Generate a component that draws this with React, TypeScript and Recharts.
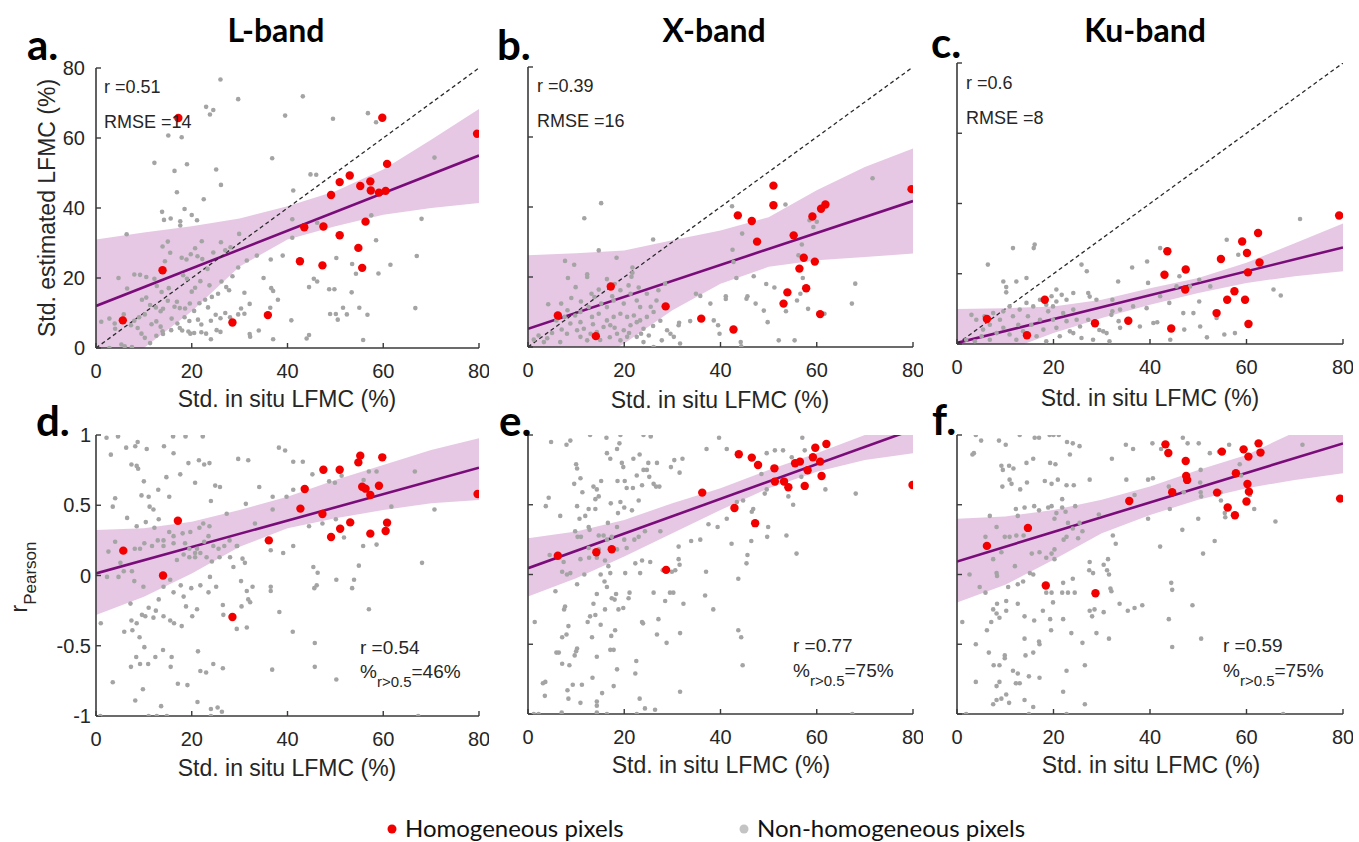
import React from 'react';
import { ComposedChart, Scatter, Line, Area, XAxis, YAxis } from 'recharts';

// shared axes
const xTicks = [0, 20, 40, 60, 80];
const topYTicks = [0, 20, 40, 60, 80];
const bottomYTicks = [-1, -0.5, 0, 0.5, 1];
const bandX = [0, 10, 20, 30, 40, 50, 60, 70, 80];
const diagLine = [[0, 0], [80, 80]];

// a. L-band estimated LFMC
const redA = [[5.6,7.9],[13.9,22.2],[17.2,65.7],[28.5,7.3],[35.9,9.4],[42.6,24.8],[43.5,34.5],[47.3,23.6],[47.5,34.7],[49.1,43.7],[50.9,32.2],[50.9,47.4],[53,49.3],[54.8,28.6],[55.2,46.3],[55.6,22.9],[56.3,36.1],[57.3,47.6],[57.4,45],[59.1,44.4],[59.8,65.8],[60.5,44.9],[60.8,52.6],[79.6,61.2]];
const grayA = [[26,76.7],[29.7,71.1],[23,68.9],[23.8,66.7],[24.5,68],[43.2,71.9],[39.5,66.4],[49.5,65.5],[56.8,67.1],[58.5,64.5],[15.1,60.7],[17.9,60.2],[12.2,52.9],[19,52.5],[16.4,50.6],[16.9,44.5],[22.5,42.5],[26.1,46.6],[25.1,51],[18.5,39.7],[20,38],[21.1,36.5],[13.8,38.9],[14.2,36.6],[15.6,37],[17.6,36.2],[17.6,35],[36.8,54.2],[41.2,45],[44.8,49.6],[46,49.5],[41,36.8],[46.2,35.8],[41,31.5],[70.7,54.4],[68,36.9],[57.5,37.9],[58.5,30.8],[59,21.3],[61.5,23.8],[53.5,24],[54.3,21.2],[50.2,25.7],[48.7,16.8],[49.8,16.8],[45.5,19.8],[46.2,19],[44.5,17.4],[53.4,15.9],[55,11.5],[56.7,9.5],[51.6,11.5],[52.4,9.6],[50.1,9.7],[48.9,9.7],[50.5,8.1],[55.8,2.3],[66.7,11.4],[67,26.3],[44.5,3.7],[44,2.7],[40.8,7.9],[37,2.5],[36.4,11.5],[36.6,17.1],[37,16.3],[38,13.8],[35,20],[39,26.4],[36.5,25.3],[33.6,26.4],[31.5,25],[29.9,32.6],[28.1,28.8],[29.7,23],[31,15.8],[32.1,12.6],[31,9.8],[32.1,4],[32.2,3.2],[34,5],[27.2,17.4],[27,10],[25.2,5.1],[24,2.5],[26,4.6],[23,4.1],[22,4.5],[19.7,4.1],[19.3,4.7],[20.5,4.3],[18,5],[17.5,5.7],[15.7,5.1],[14,4],[13.9,4.8],[12.6,3.5],[11.3,1.4],[7.5,0.3],[6,0.5],[2.8,0],[1.1,7.5],[2.8,8.4],[3.9,7],[4,5.5],[5.3,1],[5.8,9.6],[6.5,17],[4.7,20],[6.4,32.5],[8,21],[9.2,20.9],[10.5,20.3],[9.6,13.8],[10.5,14.4],[11.3,12.3],[12.5,11.6],[13.5,10.5],[14,11.2],[15,13.5],[16.4,11.8],[16.9,13.2],[17.5,11.4],[18.6,11.3],[19.6,12.7],[20.5,10.6],[21.6,12.8],[22.8,13.8],[23.4,11.6],[24.2,14.6],[23.7,17.9],[21.8,19.1],[20.7,17.2],[20,16.1],[19,19.8],[18.2,20.8],[17.9,25.8],[18.9,25.3],[19.8,26.8],[21.2,26.2],[22.2,25.4],[23.3,22.6],[24.5,27.3],[26.1,30.2],[27,27.9],[22.1,30.5],[20.7,28.5],[15,30.4],[15.5,27.2],[14.4,24.8],[13.9,29],[12.2,19.8],[12.7,17.7],[13.7,16],[15.2,17.1],[10.2,9.6],[9,8.8],[8,7.8],[7.3,6.5],[8.7,5.7],[9.5,4.1],[10.2,2.9],[11.6,6.8],[12.6,7.6],[13.5,6.1],[15.8,8.4],[17,7],[18.5,8.8],[19.5,7.7],[21.3,8.1],[22,6.7],[24,7.8],[25,9.5],[26,8.5],[28,8.8],[29.7,9.6],[30.3,11.3],[27.8,16.5],[25.5,15.5],[26.2,19],[28.5,20.5]];
const fitA = [12, 55];
const lowA = [-12, 0, 10.5, 23.3, 31, 34.8, 38.1, 40, 41.4];
const highA = [31, 33, 34.8, 37, 40.5, 44.8, 51, 59.5, 68.3];

// b. X-band estimated LFMC
const redB = [[6.2,9],[14.1,3.1],[17.2,17.3],[28.6,11.6],[36,8.1],[42.7,5],[43.6,37.6],[46.5,36],[47.6,30.1],[51,46.1],[51,40.5],[53.1,12.4],[53.9,15.6],[55.2,31.9],[56.4,22.4],[57.3,25.5],[57.8,16.8],[59.1,37.3],[59.6,24.4],[60.7,9.4],[60.9,39.5],[61.8,40.7],[79.7,45.1]];
const grayB = [[15.2,41.1],[11.7,36.8],[26,30.7],[14.7,27.6],[7.7,24.6],[9.6,23.5],[8.3,19.7],[12.3,20.8],[12.3,20],[9.9,17.1],[18.4,25.5],[16.4,19.4],[21.7,22.7],[21.7,21.2],[21.5,20.1],[13.2,15.2],[14.7,16.4],[13.8,14.3],[4.2,12.2],[6.9,12.4],[8.2,10.5],[7.6,8.6],[5.9,7.6],[1.2,2.1],[2.2,3.3],[3.3,1.4],[28.5,18.1],[27.1,16.2],[26.7,13.3],[26.1,10],[31.4,6.9],[31.3,6.2],[33.7,7.4],[34.9,15.2],[35.8,14.6],[37.9,12.4],[38.6,7.6],[39.5,6.2],[39.8,3.8],[41.1,14.5],[41.1,13.7],[42.4,40.2],[42.5,27.8],[42.7,24.3],[43.3,19.7],[44.5,32.4],[45.6,14.5],[45.4,13.8],[44.2,1.4],[44.3,0.2],[46.9,20.2],[47.3,12.4],[49,10.4],[49.5,18],[51.2,17],[49.8,7.1],[52.1,1.9],[53.5,40.7],[53.6,10.2],[55.4,1.9],[56.9,29.3],[56.2,26.2],[57.1,19.7],[58.2,10.9],[58.5,36.2],[59.3,34.3],[61.6,9.5],[60,35.8],[68,18.1],[67.3,12.4],[71.6,48.2],[55.9,13.3],[56.6,15.2],[8.8,6.7],[10.2,4.8],[11.6,5.2],[13,3.8],[14.3,4.3],[15.7,5.7],[17.1,6.2],[18.5,3.8],[19.9,4.8],[21.3,6.2],[22.6,7.1],[24,5.2],[25.1,3.3],[10.9,2.9],[12.3,1.9],[8.1,3.8],[6.7,1.4],[16.4,7.6],[17.8,8.6],[19.2,9.5],[20.6,8.6],[22,9],[23.3,7.6],[24.7,8.6],[14.7,9.5],[13.3,8.6],[9.8,9],[10.9,7.1],[19.2,1.9],[20.6,2.9],[22.6,2.9],[26.1,0],[29.6,3.8],[30.3,2.9],[31.6,1],[28.9,4.8],[27.8,1.9],[24,1.4],[15.2,12.4],[16.4,11.4],[17.8,13.3],[19.9,12.4],[21.3,15.2],[22.6,13.3],[23.3,11.4],[24.7,15.2],[20.9,17.6],[19.2,16.2],[17.5,14.5],[10.9,10],[12.6,11.4],[11,13],[9,14],[7,5],[5,4],[4,2.5],[15,2],[17,2.8],[13.5,6.5],[18,5.5],[21,4],[23.5,3.8],[26,6],[27.5,7.5],[25.5,11.5],[23,17],[18,18]];
const fitB = [5.2, 41.7];
const lowB = [-15, -7, 1, 10.5, 18.1, 22.9, 24.8, 25.7, 26.7];
const highB = [26.2, 26.8, 27.6, 30.5, 33.3, 37.1, 44.8, 51.4, 56.7];

// c. Ku-band estimated LFMC
const redC = [[6.2,7.1],[14.5,2.5],[18.2,12.6],[28.6,5.9],[35.5,6.6],[43,19.7],[43.6,26.4],[44.4,4.4],[47.4,21.2],[47.3,15.5],[53.8,8.8],[54.7,24.2],[56,12.6],[57.5,15],[59.1,29.2],[59.7,12.6],[60.1,25.9],[60.3,20.4],[60.4,5.7],[62.4,31.6],[62.7,23.2],[79.2,36.6]];
const grayC = [[71.1,35.6],[11.6,27.3],[15.9,27.3],[16.1,28.3],[6.4,22.6],[25.8,22.6],[42.1,27.3],[39.4,23.5],[36.3,21.8],[26.9,20.7],[33.4,17.8],[9.6,17.8],[12.3,17.8],[14.4,18.8],[10.2,16.2],[10.2,14.7],[46.1,19.3],[48.3,16.4],[50.2,18.3],[52.5,16.4],[55.9,29.7],[58.3,25.4],[65.6,15.5],[67.1,13.8],[60.8,6],[55.4,2.7],[51.8,1.9],[50.4,5],[49,8.8],[47.1,4.1],[46.9,8.8],[44.2,1.2],[44,11.7],[41.5,6.2],[40.7,6],[39.3,10.2],[37.9,5],[39.6,17.4],[33.5,6.5],[33.8,4.6],[32,8.3],[30.3,3.6],[31,3.1],[29.5,4],[28.2,1.2],[31.6,0.8],[27.2,14.5],[27.5,13.5],[28.9,12.6],[32.2,12.6],[32.2,9.3],[33.8,9.8],[27.2,6.9],[36.5,10.7],[42.1,13.6],[45.5,16.4],[50.2,12.1],[53.8,7.4],[57.6,3.1],[1.9,1.2],[3,8.3],[4,6.9],[5.4,4.1],[6.8,5.5],[8.2,3.1],[8.9,6.9],[9.6,4.6],[10.9,2.7],[11.6,7.9],[12.7,5.5],[13.7,3.6],[14.7,7.9],[15.4,5.5],[16.5,2.2],[17.2,6.9],[17.9,4.1],[18.9,9.3],[19.9,6.9],[20.6,4.6],[21.3,2.2],[22,8.8],[22.7,6.5],[23.4,3.6],[24.1,9.8],[24.8,6.9],[14.4,11.7],[15.8,10.7],[17.2,12.6],[18.5,11.2],[19.6,13.6],[20.6,12.1],[21.7,14],[22.7,12.6],[19.9,10.7],[13,9.8],[10.9,10.7],[9.6,9.3],[7.5,8.8],[5.7,7.9],[5.1,2.2],[3.7,0.8],[6.8,1.2],[12.3,1.2],[18.5,0.8],[24.1,3.1],[25.8,1.7],[25.5,5],[24.1,14.5],[20.6,15.5]];
const fitC = [0.3, 27.5];
const lowC = [-10, -2, 3.1, 7.4, 11.2, 14.5, 17.4, 19.3, 20.7];
const highC = [10, 10.2, 10.7, 12.6, 15.9, 18.8, 23.1, 28.7, 34.3];

// d. L-band Pearson r
const redD = [[5.7,0.177],[14,0],[17.1,0.39],[28.5,-0.295],[36.1,0.25],[42.7,0.476],[43.6,0.616],[47.3,0.438],[47.5,0.753],[49.1,0.274],[50.9,0.753],[51,0.333],[53.1,0.378],[54.8,0.805],[55.2,0.853],[55.6,0.632],[56.3,0.618],[57.3,0.573],[57.3,0.298],[59.1,0.639],[59.8,0.841],[60.5,0.317],[60.8,0.376],[79.7,0.58]];
const grayD = [[2.2,0.98],[4.6,0.99],[3.1,0.86],[6.3,0.91],[8.2,0.92],[8.7,0.95],[10.6,0.9],[14.2,0.92],[16.1,0.99],[18.7,0.99],[22.3,0.99],[16.2,0.87],[19.3,0.8],[21.5,0.82],[22.6,0.79],[23.7,0.8],[17.6,0.72],[14.7,0.7],[7.4,0.79],[8.5,0.78],[8.8,0.76],[10,0.67],[20.7,0.66],[24,0.53],[24.9,0.64],[25.9,0.63],[27.3,0.44],[29.7,0.83],[31.8,0.82],[31.3,0.51],[15.3,0.56],[11,0.56],[9.5,0.57],[13,0.61],[11.2,0.49],[12,0.47],[3.5,0.49],[4,0.55],[6.5,0.41],[8.5,0.35],[10.4,0.38],[12.2,0.34],[13.1,0.4],[14.1,0.25],[15.3,0.31],[16.2,0.28],[18.1,0.3],[18.6,0.23],[19.5,0.19],[20.7,0.16],[21.1,0.19],[21.8,0.16],[22.6,0.24],[23.5,0.28],[24.5,0.21],[25.6,0.19],[19.7,0.31],[21.6,0.34],[22.4,0.37],[23.7,0.35],[27.9,0.25],[29.5,0.21],[30.6,0.12],[31.1,0.09],[28.7,0.06],[30.3,-0.04],[32.7,-0.08],[31.5,-0.11],[31.8,-0.17],[32.2,-0.19],[30.4,-0.22],[31.5,-0.37],[29.4,-0.38],[26.6,-0.28],[26.5,-0.21],[25.1,-0.08],[23.8,-0.01],[23.5,-0.12],[21.8,-0.07],[19.9,-0.09],[21.1,-0.24],[20.1,-0.29],[18.8,-0.22],[18.3,-0.15],[17.7,-0.07],[16.2,-0.12],[15.5,-0.03],[14.1,-0.08],[13.1,-0.17],[12.5,-0.25],[12,-0.3],[14.1,-0.29],[15.5,-0.32],[16.3,-0.34],[17.9,-0.36],[9.9,-0.08],[8,-0.04],[7.2,-0.2],[7.4,-0.32],[8.5,-0.34],[9.6,-0.28],[10.3,-0.29],[11,-0.23],[5.9,-0.4],[7.6,-0.39],[9.1,-0.44],[10.1,-0.51],[8.4,-0.58],[9.2,-0.63],[7.3,-0.65],[10.9,-0.63],[12.4,-0.58],[14,-0.53],[15.8,-0.58],[15.6,-0.65],[17.1,-0.77],[19.1,-0.78],[21.3,-0.54],[21.8,-0.68],[23,-0.69],[24.5,-0.63],[26.5,-0.66],[21.2,-0.9],[8.2,-0.89],[9.8,-0.81],[3.5,-0.76],[13.6,-0.93],[24,-0.95],[25.4,-0.94],[26.3,-0.97],[11,-1],[12.7,-1],[14.8,-1],[24,-1],[0.9,-1],[1,-0.34],[2.6,0.17],[2.3,-0.01],[4.7,-0.01],[5.8,0.03],[5.1,0.09],[7.5,0.03],[4,0.24],[8.1,0.19],[9.2,0.19],[10.1,0.23],[11.7,0.21],[12.9,0.25],[14.1,0.21],[16.2,0.23],[16.9,0.11],[18.3,0.15],[19.5,0.13],[20.7,0.13],[23.1,0.13],[24.2,0.1],[25.8,0.13],[26.8,0.21],[28,0.13],[29.4,0.21],[33.2,0.37],[34.1,0.63],[36.9,0.47],[36.9,0.56],[36.5,0.18],[36.5,-0.08],[36.5,-0.11],[36.8,-0.67],[38.3,-0.26],[39.1,0.16],[39.8,0.56],[38.2,0.91],[39.5,0.89],[41.2,0.81],[43.2,0.81],[41.2,0.61],[41.2,0.21],[41.1,-0.4],[45.6,-0.09],[45.7,-0.48],[45.7,-0.65],[44.5,0.35],[45.2,0.72],[45.4,0.06],[46.3,0.02],[46.1,-0.07],[47.3,0.37],[48.7,0.67],[49.9,0.66],[50.2,-0.03],[50.2,-0.74],[51.3,0.71],[50.1,0.4],[51.8,0.27],[53.5,-0.09],[53.9,-0.03],[54.9,0.07],[55.8,0.21],[55.9,0.68],[57,-0.24],[57,0.74],[58.6,0.74],[58.6,0.22],[61.7,0.49],[66.6,0.74],[68.1,0.09],[70.7,0.47],[67.3,-1]];
const fitD = [0.015, 0.767];
const lowD = [-0.281, -0.151, 0.015, 0.205, 0.336, 0.407, 0.466, 0.514, 0.537];
const highD = [0.324, 0.336, 0.383, 0.466, 0.561, 0.68, 0.786, 0.893, 0.976];

// e. X-band Pearson r
const redE = [[6.2,0.134],[14.2,0.16],[17.4,0.181],[28.7,0.033],[36.2,0.587],[42.9,0.477],[43.8,0.862],[46.5,0.838],[47.8,0.785],[47.2,0.368],[51.2,0.761],[51.3,0.666],[53.2,0.666],[54.1,0.625],[55.5,0.797],[56.5,0.809],[57.5,0.635],[58.1,0.747],[59.2,0.84],[59.7,0.909],[60.7,0.809],[61,0.706],[62,0.936],[79.9,0.642]];
const grayE = [[4.8,0.95],[8,0.93],[8.8,0.96],[12.9,1],[16.3,0.98],[19.2,1],[19,0.94],[18.5,0.9],[16.4,0.87],[17.1,0.83],[19.5,0.8],[19.8,0.77],[21.9,0.83],[23.2,0.86],[24,1],[25.5,0.99],[25,0.8],[24,0.75],[24.7,0.75],[26.8,0.8],[29.7,0.77],[31.5,0.73],[32.1,0.83],[30.4,0.82],[26.1,0.65],[26.6,0.63],[23.7,0.64],[20.1,0.67],[18.6,0.67],[20.5,0.62],[21.8,0.62],[23,0.53],[21.6,0.46],[20,0.48],[19.2,0.52],[17.2,0.51],[18.7,0.44],[16.6,0.37],[18.5,0.34],[20,0.25],[20.5,0.19],[22.1,0.25],[23,0.27],[24.3,0.31],[27.5,0.31],[27.3,0.63],[25.2,0.7],[22.6,0.71],[10,0.79],[10.2,0.76],[10.9,0.69],[9.6,0.65],[11.3,0.59],[13.6,0.63],[14.3,0.61],[14.7,0.56],[15.2,0.67],[14,0.54],[12.6,0.47],[14,0.47],[11.9,0.42],[10.2,0.49],[10.7,0.4],[9.8,0.31],[10.3,0.27],[11,0.27],[12.6,0.34],[12.8,0.32],[14.7,0.28],[15.7,0.28],[16.4,0.25],[12.6,0.19],[10.9,0.11],[12.7,0.12],[14.3,0.12],[16,0.1],[14.7,0.18],[18.5,0.18],[17.4,0.27],[6.7,0.42],[3.7,0.49],[4.3,0.55],[4.5,0.14],[7.4,0.09],[7.1,0.02],[8.1,0],[8.8,0.01],[5.7,-0.12],[10.2,-0.07],[11.7,0],[15.1,0],[17.1,0.01],[16.7,0.06],[20.2,0.01],[22.3,0.08],[23.7,0.1],[23.3,0.01],[25.4,0.09],[28,0.03],[29.9,0.02],[30.6,0.03],[31.3,0.11],[31.5,0.07],[31.3,0.2],[33.9,0.24],[35.8,0.25],[37,0.02],[37.5,0.36],[39.4,0.34],[41.3,0.4],[42.3,0.22],[43.7,-0.03],[45.4,0.08],[45.6,0.14],[46.4,0.24],[46.8,0.47],[46.5,0.45],[44.7,0.53],[43.4,0.52],[49.9,0.34],[49.7,0.27],[53.7,0.28],[55.8,0.15],[55.1,0.5],[54.1,0.56],[49.6,0.61],[49.2,0.58],[48.5,0.72],[51.3,0.89],[49.6,0.87],[53,0.89],[54.8,0.84],[57,0.98],[57.5,0.89],[56.8,0.7],[61.8,0.61],[68.1,0.58],[41.3,0.9],[37.1,0.9],[39.7,0.98],[43.7,-0.4],[44.3,-0.45],[44.6,-0.65],[38.5,-0.25],[36.8,-0.15],[31.6,-0.42],[31.6,-0.84],[28.8,-0.49],[26.8,-0.43],[27.1,-0.32],[26.1,-0.13],[23.7,-0.34],[23.9,-0.35],[22.5,-0.62],[23.2,-0.89],[24.3,-0.96],[26.4,-0.97],[28.5,-0.19],[29.5,-0.13],[30.2,-0.13],[32.3,-0.21],[21.1,-0.13],[20.9,-0.17],[19.8,-0.24],[18.8,-0.25],[18,-0.18],[17.4,-0.17],[16,-0.25],[14.3,-0.14],[13.6,-0.21],[12.9,-0.3],[12.4,-0.34],[14,-0.29],[15.9,-0.05],[16.4,-0.09],[18.1,-0.4],[17.3,-0.44],[17.1,-0.54],[17.8,-0.54],[15.1,-0.36],[13.3,-0.45],[14.3,-0.59],[13.4,-0.74],[15.4,-0.85],[14.3,-0.91],[14.3,-0.94],[10.9,-0.92],[9.3,-0.79],[11.2,-0.79],[8.2,-0.83],[8.4,-0.89],[7.1,-0.45],[8,-0.43],[7.5,-0.25],[7.7,-0.23],[8.4,-0.37],[10.2,-0.53],[10,-0.55],[9.7,-0.58],[8.6,-0.65],[7.1,-0.64],[6.4,-0.56],[5.9,-0.56],[3.6,-0.77],[3.1,-0.78],[3.5,-0.87],[1.4,-0.34],[2.2,-1],[1.2,-1],[7,-0.99],[14.3,-0.99],[16.4,-1],[22.6,-1],[67.4,-1],[17.8,-0.8],[18.5,-0.68],[22.3,-0.71],[18.3,-0.14]];
const fitE = [0.045, 1.039];
const lowE = [-0.158, -0.026, 0.129, 0.296, 0.463, 0.618, 0.737, 0.821, 0.869];
const highE = [0.26, 0.308, 0.391, 0.511, 0.618, 0.749, 0.869, 1.0, 1.12];

// f. Ku-band Pearson r
const redF = [[6.2,0.205],[14.7,0.334],[18.4,-0.079],[28.7,-0.134],[35.7,0.527],[43.2,0.933],[43.8,0.871],[44.6,0.59],[47.4,0.814],[47.5,0.706],[47.7,0.678],[53.9,0.587],[54.9,0.881],[56.1,0.48],[57.6,0.425],[57.8,0.726],[59.4,0.897],[60,0.523],[60.2,0.649],[60.4,0.845],[60.5,0.594],[62.5,0.94],[62.9,0.874],[79.4,0.544]];
const grayF = [[3.9,1],[5,0.96],[3.2,0.86],[3.5,0.87],[8.7,0.96],[10.1,0.93],[13,1],[16.1,0.98],[17,0.98],[19.2,1],[20,1],[21.1,1],[19.3,0.8],[20.4,0.79],[22.8,0.95],[24,0.94],[25.4,0.92],[23.4,0.86],[15.8,0.83],[14.4,0.8],[11.7,0.76],[10.8,0.78],[9.2,0.78],[9.5,0.75],[10.9,0.68],[11.3,0.65],[9.4,0.63],[13.1,0.61],[14.5,0.66],[18.2,0.67],[19.6,0.65],[20.9,0.68],[22.7,0.64],[24.2,0.64],[21.8,0.54],[22.5,0.45],[20.6,0.44],[20.2,0.4],[23,0.37],[22.7,0.27],[22.1,0.25],[20.2,0.18],[20.2,0.11],[19.6,0.15],[18.5,0.12],[17.1,0.16],[15.5,0.15],[15.8,0],[15.1,0.01],[13.8,0.28],[12.3,0.28],[10.9,0.27],[9.9,0.27],[8.2,0.34],[5.9,0.27],[7.5,0.11],[9.2,0.16],[12,0.06],[13.7,-0.05],[12.6,-0.07],[10.6,-0.09],[8.2,0.01],[8.3,-0.01],[6.8,0.42],[12.2,0.47],[12.6,0.42],[14,0.48],[16,0.49],[17,0.46],[18.9,0.48],[19.6,0.49],[21.8,0.48],[24.5,0.49],[25.4,0.37],[24,0.33],[26,0.31],[25.1,0.26],[27.5,0.68],[29.4,0.43],[32.1,0.83],[35,0.93],[36.5,0.9],[40.5,0.94],[46.8,0.98],[47.8,0.94],[50.1,0.94],[52.4,0.87],[54.3,0.88],[56.4,0.93],[71.6,0.93],[66,0.38],[61.6,0.47],[60.7,0.57],[58.6,0.79],[58.9,0.71],[55.5,0.44],[55.6,0.41],[54.7,0.53],[54.6,0.59],[53.4,0.24],[51,0.15],[50.5,0.59],[50.6,0.56],[50.4,0.66],[50.5,0.75],[50,0.4],[46.7,0.32],[47,0.59],[44.1,0.47],[43.9,0.63],[42.1,0.2],[39.6,0.4],[39.6,0.68],[40.6,0.69],[36.8,0.57],[35.1,0.68],[32.3,0.28],[32.9,0.22],[31.3,0.11],[30.4,0.07],[31.1,0.03],[31.5,0],[27.5,0.09],[27.4,0.03],[28.2,0.01],[24,-0.03],[23,-0.13],[24.4,-0.13],[22,-0.06],[21.8,-0.13],[19.6,-0.13],[18.5,-0.13],[18.2,-0.07],[19.9,-0.2],[17.8,-0.26],[19.3,-0.32],[19.5,-0.4],[22,-0.32],[23.7,-0.42],[22,-0.84],[22.7,-0.69],[26,-0.49],[26.5,-0.65],[26.5,-0.93],[17,-0.48],[17.1,-0.5],[17.1,-0.74],[15.8,-0.56],[14.9,-0.73],[14.2,-0.58],[14,-0.46],[16,-0.33],[14,-0.3],[12.6,-0.21],[10.2,-0.19],[10.2,-0.26],[8.3,-0.21],[7.5,-0.25],[8.2,-0.28],[7.1,-0.34],[8.8,-0.31],[6.2,-0.4],[5.9,-0.13],[4.7,-0.09],[2.6,0],[1.1,-0.34],[3.9,-0.5],[3.9,-0.77],[6.6,-0.56],[7.6,-0.65],[8.8,-0.65],[9.9,-0.58],[9.9,-0.6],[11.6,-0.69],[12.6,-0.71],[13,-0.78],[8.8,-0.77],[8.2,-0.8],[10.2,-0.86],[9.2,-0.89],[10.8,-0.92],[7.5,-0.93],[8.2,-0.9],[14,-0.9],[15.8,-0.95],[12.2,-0.78],[27.5,-0.26],[28,-0.3],[28.9,-0.42],[28.5,-0.25],[30.4,-0.27],[31.5,-0.46],[32,-0.12],[31.8,-0.1],[33.7,-0.21],[35.4,-0.26],[36.8,-0.24],[38.4,-0.22],[44.4,-0.06],[44.6,-0.11],[43.9,-0.32],[44.6,-0.52],[48.8,-0.22],[50.6,-0.46],[67.6,-1],[1.9,-1],[14.9,-1],[22.7,-1],[42.3,0.9]];
const fitF = [0.093, 0.94];
const lowF = [-0.2, -0.074, 0.105, 0.296, 0.427, 0.535, 0.618, 0.678, 0.726];
const highF = [0.399, 0.415, 0.463, 0.535, 0.63, 0.749, 0.857, 1.02, 1.12];

const AXIS = '#3a3a3a';
const TICK_FONT = { fontSize: 20, fill: '#262626', fontFamily: 'Liberation Sans, Arial, sans-serif' };

const toPts = (arr: number[][]) => arr.map(([x, y]) => ({ x, y }));

const GrayDot = (p: any) => <circle cx={p.cx} cy={p.cy} r={2.3} fill="#a4a4a4" />;
const RedDot = (p: any) => <circle cx={p.cx} cy={p.cy} r={4.2} fill="#f20000" />;

interface PanelProps {
  left: number;
  top: number;
  w: number;
  h: number;
  yDomain: [number, number];
  yTicks: number[];
  yLabels: boolean;
  yTickMargin: number;
  gray: number[][];
  red: number[][];
  fit: number[];
  low: number[];
  high: number[];
  diag?: boolean;
}

const Panel = ({ left, top, w, h, yDomain, yTicks, yLabels, yTickMargin, gray, red, fit, low, high, diag }: PanelProps) => {
  const mL = 70, mT = 10, mR = 10, mB = 45;
  const bandData = bandX.map((x, i) => ({ x, band: [low[i], high[i]] }));
  const fitData = [{ x: 0, y: fit[0] }, { x: 80, y: fit[1] }];
  return (
    <div style={{ position: 'absolute', left: left - mL, top: top - mT }}>
      <ComposedChart width={w + mL + mR} height={h + mT + mB} margin={{ top: mT, right: mR, left: 0, bottom: 0 }}>
        <XAxis
          type="number"
          dataKey="x"
          domain={[0, 80]}
          ticks={xTicks}
          interval={0}
          allowDataOverflow
          height={mB}
          tickSize={-5}
          tickMargin={21}
          axisLine={{ stroke: AXIS, strokeWidth: 1.6 }}
          tickLine={{ stroke: AXIS, strokeWidth: 1.4 }}
          tick={TICK_FONT}
        />
        <YAxis
          type="number"
          dataKey="y"
          domain={yDomain}
          ticks={yTicks}
          interval={0}
          allowDataOverflow
          width={mL}
          tickSize={-5}
          tickMargin={yTickMargin}
          axisLine={{ stroke: AXIS, strokeWidth: 1.6 }}
          tickLine={{ stroke: AXIS, strokeWidth: 1.4 }}
          tick={TICK_FONT}
          tickFormatter={(v: number) => (yLabels ? String(v) : '')}
        />
        <Area
          data={bandData}
          dataKey="band"
          type="linear"
          stroke="none"
          fill="#9c1e92"
          fillOpacity={0.25}
          dot={false}
          activeDot={false}
          isAnimationActive={false}
        />
        <Scatter data={toPts(gray)} shape={GrayDot} isAnimationActive={false} />
        <Line
          data={fitData}
          dataKey="y"
          type="linear"
          stroke="#7a0c7a"
          strokeWidth={2.6}
          dot={false}
          activeDot={false}
          isAnimationActive={false}
        />
        {diag && (
          <Line
            data={toPts(diagLine)}
            dataKey="y"
            type="linear"
            stroke="#2a2a2a"
            strokeWidth={1.3}
            strokeDasharray="4 3"
            dot={false}
            activeDot={false}
            isAnimationActive={false}
          />
        )}
        <Scatter data={toPts(red)} shape={RedDot} isAnimationActive={false} />
      </ComposedChart>
    </div>
  );
};

const SANS = 'Liberation Sans, Arial, sans-serif';
const TITLE = 'Lato, "Open Sans", sans-serif';

const Overlay = () => (
  <svg width={1359} height={842} style={{ position: 'absolute', left: 0, top: 0, pointerEvents: 'none' }}>
    <g fontFamily={TITLE} fontWeight="bold" fill="#000">
      <text x={276} y={42} fontSize={32} textAnchor="middle">L-band</text>
      <text x={714} y={42} fontSize={32} textAnchor="middle">X-band</text>
      <text x={1145} y={42} fontSize={32} textAnchor="middle">Ku-band</text>
      <text x={27} y={60} fontSize={42}>a.</text>
      <text x={497} y={60} fontSize={42}>b.</text>
      <text x={931} y={58} fontSize={42}>c.</text>
      <text x={36} y={436} fontSize={42}>d.</text>
      <text x={499} y={436} fontSize={42}>e.</text>
      <text x={932} y={435} fontSize={42}>f.</text>
    </g>
    <g fontFamily={SANS} fill="#262626">
      <text x={287} y={407} fontSize={23} textAnchor="middle">Std. in situ LFMC (%)</text>
      <text x={720} y={408} fontSize={23} textAnchor="middle">Std. in situ LFMC (%)</text>
      <text x={1150} y={406} fontSize={23} textAnchor="middle">Std. in situ LFMC (%)</text>
      <text x={287} y={776} fontSize={23} textAnchor="middle">Std. in situ LFMC (%)</text>
      <text x={721} y={773} fontSize={23} textAnchor="middle">Std. in situ LFMC (%)</text>
      <text x={1151} y={773} fontSize={23} textAnchor="middle">Std. in situ LFMC (%)</text>
      <text x={55} y={208} fontSize={23} textAnchor="middle" transform="rotate(-90 55 208)">
        Std. estimated LFMC (%)
      </text>
      <text x={27} y={577} fontSize={23} textAnchor="middle" transform="rotate(-90 27 577)">
        r<tspan fontSize={17} dy={9}>Pearson</tspan>
      </text>

      <text x={104} y={93} fontSize={18}>r =0.51</text>
      <text x={104} y={128} fontSize={18}>RMSE =14</text>
      <text x={537} y={92} fontSize={18}>r =0.39</text>
      <text x={537} y={127} fontSize={18}>RMSE =16</text>
      <text x={966} y={89} fontSize={18}>r =0.6</text>
      <text x={966} y={124} fontSize={18}>RMSE =8</text>

      <text x={360} y={654} fontSize={19}>r =0.54</text>
      <text x={360} y={678} fontSize={19}>
        %<tspan fontSize={15} dy={9}>{'r>0.5'}</tspan><tspan fontSize={19} dy={-9}>=46%</tspan>
      </text>
      <text x={793} y={652} fontSize={19}>r =0.77</text>
      <text x={793} y={677} fontSize={19}>
        %<tspan fontSize={15} dy={9}>{'r>0.5'}</tspan><tspan fontSize={19} dy={-9}>=75%</tspan>
      </text>
      <text x={1223} y={652} fontSize={19}>r =0.59</text>
      <text x={1223} y={677} fontSize={19}>
        %<tspan fontSize={15} dy={9}>{'r>0.5'}</tspan><tspan fontSize={19} dy={-9}>=75%</tspan>
      </text>
    </g>
    <g fontFamily={TITLE} fontSize={24} fill="#111">
      <circle cx={392} cy={829} r={4.5} fill="#f20000" />
      <text x={405} y={837}>Homogeneous pixels</text>
      <circle cx={744} cy={829} r={4.5} fill="#c4c4c4" />
      <text x={757} y={837}>Non-homogeneous pixels</text>
    </g>
  </svg>
);

export default function App() {
  return (
    <div style={{ position: 'absolute', left: 0, top: 0, width: 1359, height: 842, background: '#fff', overflow: 'hidden' }}>
      <Panel left={96} top={68} w={383} h={280} yDomain={[0, 80]} yTicks={topYTicks} yLabels yTickMargin={16}
        gray={grayA} red={redA} fit={fitA} low={lowA} high={highA} diag />
      <Panel left={528} top={67} w={385} h={280} yDomain={[0, 80]} yTicks={topYTicks} yLabels={false} yTickMargin={16}
        gray={grayB} red={redB} fit={fitB} low={lowB} high={highB} diag />
      <Panel left={957} top={63} w={386} h={281} yDomain={[0, 80]} yTicks={topYTicks} yLabels={false} yTickMargin={16}
        gray={grayC} red={redC} fit={fitC} low={lowC} high={highC} diag />
      <Panel left={96} top={435} w={383} h={281} yDomain={[-1, 1]} yTicks={bottomYTicks} yLabels yTickMargin={10}
        gray={grayD} red={redD} fit={fitD} low={lowD} high={highD} />
      <Panel left={528} top={435} w={385} h={279} yDomain={[-1, 1]} yTicks={bottomYTicks} yLabels={false} yTickMargin={10}
        gray={grayE} red={redE} fit={fitE} low={lowE} high={highE} />
      <Panel left={957} top={435} w={386} h={279} yDomain={[-1, 1]} yTicks={bottomYTicks} yLabels={false} yTickMargin={10}
        gray={grayF} red={redF} fit={fitF} low={lowF} high={highF} />
      <Overlay />
    </div>
  );
}
